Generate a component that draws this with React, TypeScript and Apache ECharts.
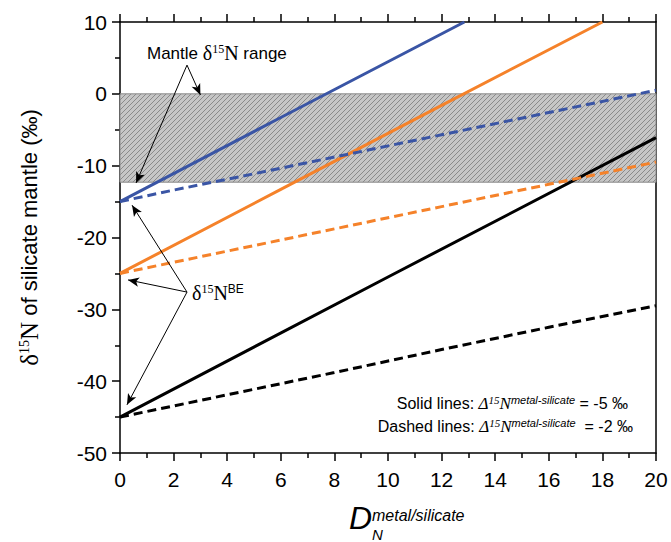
import React, { useEffect, useRef } from "react";
import * as echarts from "echarts";

// ---- data ----
const blueSolid: [number, number][] = [[0, -15], [6, -3.3], [12.85, 10]];
const orangeSolid: [number, number][] = [[0, -25], [6, -13.3], [12, -1.6], [18, 10]];
const blackSolid: [number, number][] = [[0, -45], [10, -25.5], [20, -6.1]];
const blueDashed: [number, number][] = [[0, -15], [2, -13.4], [4, -11.9], [8, -8.8], [12, -5.7], [16, -2.6], [20, 0.5]];
const orangeDashed: [number, number][] = [[0, -25], [4, -21.9], [8, -18.8], [12, -15.7], [16, -12.6], [20, -9.5]];
const blackDashed: [number, number][] = [[0, -45], [4, -41.9], [8, -38.8], [12, -35.6], [16, -32.5], [20, -29.5]];
const mantleBand: [number, number] = [0, -12.3];
const mantleArrows: [number, number][][] = [
  [[2.5, 4.0], [0.6, -12.4]],
  [[2.5, 4.0], [3.0, -0.15]],
];
const beArrows: [number, number][][] = [
  [[2.5, -27.6], [0.45, -15.5]],
  [[2.5, -27.6], [0.3, -25.9]],
  [[2.5, -27.6], [0.26, -43.3]],
];
const xRange: [number, number, number] = [0, 20, 2];
const yRange: [number, number, number] = [-50, 10, 10];

const BLUE = "#3a55a5";
const ORANGE = "#f5822a";
const SANS = "Liberation Sans";
const SERIF = "Liberation Serif";

function makeHatch() {
  const s = 5;
  const c = document.createElement("canvas");
  c.width = s;
  c.height = s;
  const ctx = c.getContext("2d")!;
  ctx.fillStyle = "#c6c6c6";
  ctx.fillRect(0, 0, s, s);
  ctx.strokeStyle = "#707070";
  ctx.lineWidth = 0.7;
  ctx.beginPath();
  ctx.moveTo(-1, s + 1);
  ctx.lineTo(s + 1, -1);
  ctx.moveTo(-1, 1);
  ctx.lineTo(1, -1);
  ctx.moveTo(s - 1, s + 1);
  ctx.lineTo(s + 1, s - 1);
  ctx.stroke();
  return c;
}

export default function App() {
  const ref = useRef<HTMLDivElement>(null);
  useEffect(() => {
    const chart = echarts.init(ref.current!, undefined, { renderer: "svg" });
    const axisLine = { show: true, onZero: false, lineStyle: { color: "#000", width: 1.5 } };
    const tick = { show: true, inside: false, length: 8, lineStyle: { color: "#000", width: 1.5 } };
    const minor = { show: true, splitNumber: 2, length: 5, lineStyle: { color: "#000", width: 1.5 } };
    const lineSeries = (data: [number, number][], color: string, dashed: boolean) => ({
      type: "line",
      data,
      showSymbol: false,
      symbol: "none",
      clip: true,
      z: 3,
      lineStyle: { color, width: 3, type: dashed ? [9, 5] : "solid" },
      silent: true,
    });
    const arrowLines = (arr: [number, number][][]) =>
      arr.map((a) => [{ coord: a[0] }, { coord: a[1] }]);

    const supRich = {
      a: { fontFamily: SANS, fontSize: 17, color: "#000" },
      s: { fontFamily: SERIF, fontSize: 20, color: "#000" },
      sup: { fontFamily: SERIF, fontSize: 12, color: "#000", verticalAlign: "top" },
      supa: { fontFamily: SANS, fontSize: 12, color: "#000", verticalAlign: "top" },
    };
    const legRich = {
      a: { fontFamily: SANS, fontSize: 16, color: "#000" },
      g: { fontFamily: SERIF, fontSize: 17, fontStyle: "italic", color: "#000" },
      gs: { fontFamily: SERIF, fontSize: 11, fontStyle: "italic", color: "#000", verticalAlign: "top" },
      m: { fontFamily: SANS, fontSize: 11, fontStyle: "italic", color: "#000", verticalAlign: "top" },
    };

    chart.setOption({
      animation: false,
      textStyle: { fontFamily: SANS },
      grid: { left: 120, top: 22, right: 15, bottom: 89, containLabel: false },
      xAxis: [
        {
          type: "value", min: xRange[0], max: xRange[1], interval: xRange[2], position: "bottom",
          axisLine, axisTick: tick, minorTick: minor, splitLine: { show: false },
          axisLabel: { color: "#000", fontSize: 21, margin: 16, fontFamily: SANS },
        },
        {
          type: "value", min: xRange[0], max: xRange[1], interval: xRange[2], position: "top",
          axisLine, axisTick: tick, minorTick: minor, splitLine: { show: false },
          axisLabel: { show: false },
        },
      ],
      yAxis: [
        {
          type: "value", min: yRange[0], max: yRange[1], interval: yRange[2], position: "left",
          axisLine, axisTick: tick, minorTick: minor, splitLine: { show: false },
          axisLabel: { color: "#000", fontSize: 21, margin: 13, fontFamily: SANS },
          name: "{s|δ}{sup|15}{s|N}{a| of silicate mantle (‰)}",
          nameLocation: "middle",
          nameGap: 78,
          nameTextStyle: {
            rich: {
              a: { fontFamily: SANS, fontSize: 22, color: "#000" },
              s: { fontFamily: SERIF, fontSize: 25, color: "#000" },
              sup: { fontFamily: SERIF, fontSize: 14, color: "#000", verticalAlign: "top" },
            },
          },
        },
        {
          type: "value", min: yRange[0], max: yRange[1], interval: yRange[2], position: "right",
          axisLine, axisTick: { show: false }, axisLabel: { show: false }, splitLine: { show: false },
        },
      ],
      series: [
        {
          type: "line",
          data: [],
          z: 1,
          silent: true,
          markArea: {
            silent: true,
            itemStyle: {
              color: { image: makeHatch(), repeat: "repeat" },
              borderColor: "#8a8a8a",
              borderWidth: 1,
            },
            data: [[{ yAxis: mantleBand[0] }, { yAxis: mantleBand[1] }]],
          },
        },
        lineSeries(blueSolid, BLUE, false),
        lineSeries(orangeSolid, ORANGE, false),
        lineSeries(blackSolid, "#000", false),
        lineSeries(blueDashed, BLUE, true),
        lineSeries(orangeDashed, ORANGE, true),
        lineSeries(blackDashed, "#000", true),
        {
          type: "line",
          data: [],
          z: 5,
          silent: true,
          markLine: {
            silent: true,
            symbol: ["none", "arrow"],
            symbolSize: [7, 11],
            label: { show: false },
            lineStyle: { color: "#000", width: 1, type: "solid" },
            data: [...arrowLines(mantleArrows), ...arrowLines(beArrows)],
          },
        },
      ],
      graphic: [
        {
          type: "text", x: 147, y: 53, z: 10,
          style: { text: "{a|Mantle }{s|δ}{sup|15}{s|N}{a| range}", rich: supRich, align: "left", verticalAlign: "middle" },
        },
        {
          type: "text", x: 192, y: 293, z: 10,
          style: { text: "{s|δ}{sup|15}{s|N}{supa|BE}", rich: supRich, align: "left", verticalAlign: "middle" },
        },
        {
          type: "text", x: 628, y: 403, z: 10,
          style: { text: "{a|Solid lines: }{g|Δ}{gs|15}{g|N}{m|metal-silicate}{a| = -5 ‰}", rich: legRich, align: "right", verticalAlign: "middle" },
        },
        {
          type: "text", x: 633, y: 426, z: 10,
          style: { text: "{a|Dashed lines: }{g|Δ}{gs|15}{g|N}{m|metal-silicate}{a|  = -2 ‰}", rich: legRich, align: "right", verticalAlign: "middle" },
        },
        {
          type: "text", x: 349, y: 534, z: 10,
          style: { text: "D", fontFamily: SANS, fontStyle: "italic", fontSize: 32, fill: "#000", align: "left", verticalAlign: "bottom" },
        },
        {
          type: "text", x: 372, y: 507, z: 10,
          style: { text: "metal/silicate", fontFamily: SANS, fontStyle: "italic", fontSize: 16, fill: "#000", align: "left", verticalAlign: "top" },
        },
        {
          type: "text", x: 372, y: 534, z: 10,
          style: { text: "N", fontFamily: SANS, fontStyle: "italic", fontSize: 15, fill: "#000", align: "left", verticalAlign: "middle" },
        },
      ],
    });
    return () => chart.dispose();
  }, []);
  return (
    <div
      ref={ref}
      style={{ position: "fixed", left: 0, top: 0, width: 671, height: 542, background: "#fff" }}
    />
  );
}
